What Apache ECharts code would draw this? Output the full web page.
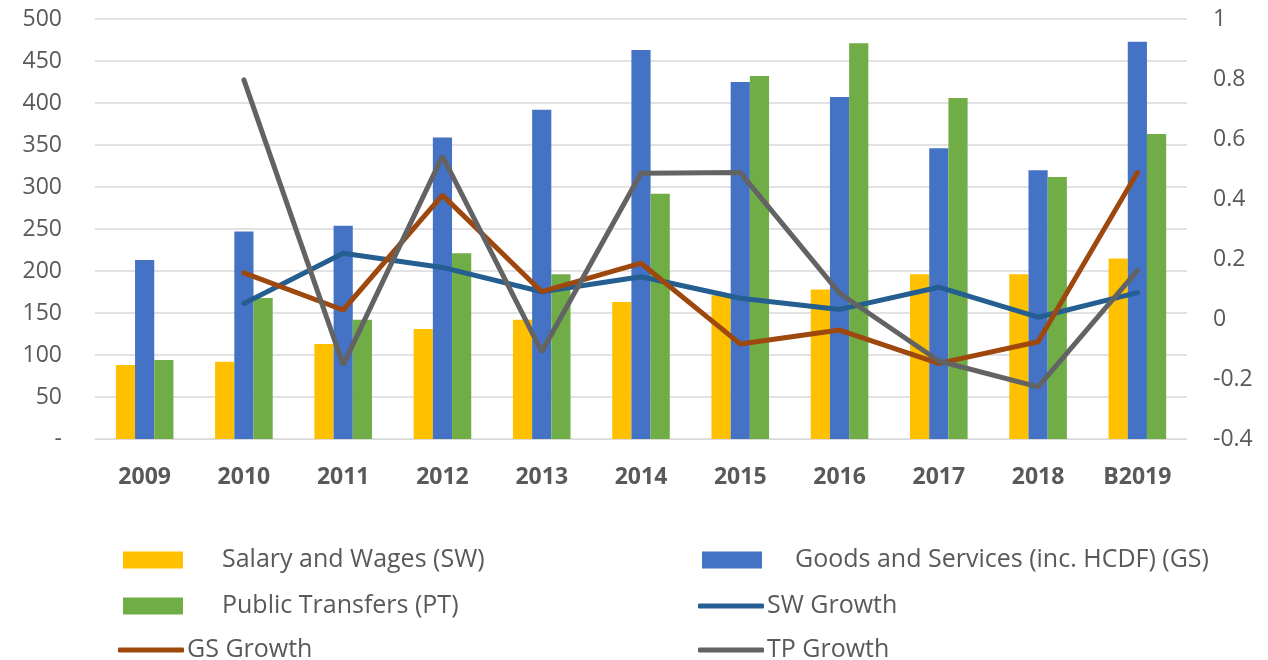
<!DOCTYPE html>
<html>
<head>
<meta charset="utf-8">
<script src="https://cdn.jsdelivr.net/npm/echarts@6/dist/echarts.min.js"></script>
<style>
  html, body { margin: 0; padding: 0; background: #fff; }
  #chart { width: 1268px; height: 660px; }
</style>
</head>
<body>
<div id="chart"></div>
<script>
  var years = ['2009', '2010', '2011', '2012', '2013', '2014', '2015', '2016', '2017', '2018', 'B2019'];
  var swData = [88, 92, 113, 131, 142, 163, 171, 178, 196, 196, 215]; // Salary and Wages
  var gsData = [213, 247, 254, 359, 392, 463, 425, 407, 346, 320, 473]; // Goods and Services
  var ptData = [94, 168, 142, 221, 196, 292, 432, 471, 406, 312, 363]; // Public Transfers
  var swGrowth = [null, 0.052, 0.219, 0.172, 0.091, 0.141, 0.069, 0.032, 0.106, 0.006, 0.088];
  var gsGrowth = [null, 0.154, 0.03, 0.413, 0.091, 0.186, -0.083, -0.037, -0.148, -0.076, 0.488];
  var tpGrowth = [null, 0.797, -0.153, 0.543, -0.109, 0.486, 0.488, 0.086, -0.14, -0.226, 0.161];

  var myChart = echarts.init(document.getElementById('chart'));
  var font = '"Open Sans", sans-serif';
  var grey = '#595959';

  // one legend per entry so the two-column excel layout can be placed by hand
  function barLegend(name, left, top, pad) {
    return {
      data: [{ name: name, icon: 'rect' }],
      left: left,
      top: top,
      itemWidth: 60,
      itemHeight: 17,
      selectedMode: false,
      textStyle: {
        fontFamily: font,
        fontSize: 25,
        lineHeight: 30,
        color: grey,
        padding: [0, 0, 0, pad]
      }
    };
  }
  function lineLegend(name, left, top) {
    return {
      data: [{ name: name, icon: 'roundRect' }],
      left: left,
      top: top,
      itemWidth: 66,
      itemHeight: 5,
      selectedMode: false,
      textStyle: {
        fontFamily: font,
        fontSize: 25,
        lineHeight: 30,
        color: grey,
        padding: [0, 0, 0, -2]
      }
    };
  }

  var option = {
    backgroundColor: '#fff',
    animation: false,
    grid: {
      left: 95,
      right: 81,
      top: 19,
      bottom: 221
    },
    legend: [
      barLegend('Salary and Wages (SW)', 118, 540, 34),
      barLegend('Goods and Services (inc. HCDF) (GS)', 697, 540, 28),
      barLegend('Public Transfers (PT)', 118, 586, 34),
      lineLegend('SW Growth', 693, 586),
      lineLegend('GS Growth', 113, 630),
      lineLegend('TP Growth', 693, 630)
    ],
    xAxis: {
      type: 'category',
      data: years,
      axisTick: { show: false },
      axisLine: { lineStyle: { color: '#d9d9d9' } },
      axisLabel: {
        margin: 27,
        fontFamily: font,
        fontSize: 23,
        fontWeight: 'bold',
        color: grey
      }
    },
    yAxis: [
      {
        type: 'value',
        min: 0,
        max: 500,
        interval: 50,
        axisLine: { show: false },
        axisTick: { show: false },
        splitLine: { lineStyle: { color: '#d9d9d9', width: 1.5 } },
        axisLabel: {
          margin: 33,
          fontFamily: font,
          fontSize: 23,
          color: grey,
          formatter: function (v) {
            return v === 0 ? '-' : v;
          }
        }
      },
      {
        type: 'value',
        min: -0.4,
        max: 1,
        interval: 0.2,
        axisLine: { show: false },
        axisTick: { show: false },
        splitLine: { show: false },
        axisLabel: {
          margin: 26,
          fontFamily: font,
          fontSize: 23,
          color: grey,
          formatter: function (v) {
            return Math.round(v * 10) / 10;
          }
        }
      }
    ],
    series: [
      {
        name: 'Salary and Wages (SW)',
        type: 'bar',
        barGap: '0%',
        barCategoryGap: '42%',
        itemStyle: { color: '#FFC000' },
        data: swData
      },
      {
        name: 'Goods and Services (inc. HCDF) (GS)',
        type: 'bar',
        itemStyle: { color: '#4472C4' },
        data: gsData
      },
      {
        name: 'Public Transfers (PT)',
        type: 'bar',
        itemStyle: { color: '#70AD47' },
        data: ptData
      },
      {
        name: 'SW Growth',
        type: 'line',
        yAxisIndex: 1,
        symbol: 'none',
        lineStyle: { color: '#255E91', width: 5, cap: 'round' },
        itemStyle: { color: '#255E91' },
        data: swGrowth
      },
      {
        name: 'GS Growth',
        type: 'line',
        yAxisIndex: 1,
        symbol: 'none',
        lineStyle: { color: '#9E480E', width: 5, cap: 'round' },
        itemStyle: { color: '#9E480E' },
        data: gsGrowth
      },
      {
        name: 'TP Growth',
        type: 'line',
        yAxisIndex: 1,
        symbol: 'none',
        lineStyle: { color: '#636363', width: 5, cap: 'round' },
        itemStyle: { color: '#636363' },
        data: tpGrowth
      }
    ]
  };

  option && myChart.setOption(option);
</script>
</body>
</html>
